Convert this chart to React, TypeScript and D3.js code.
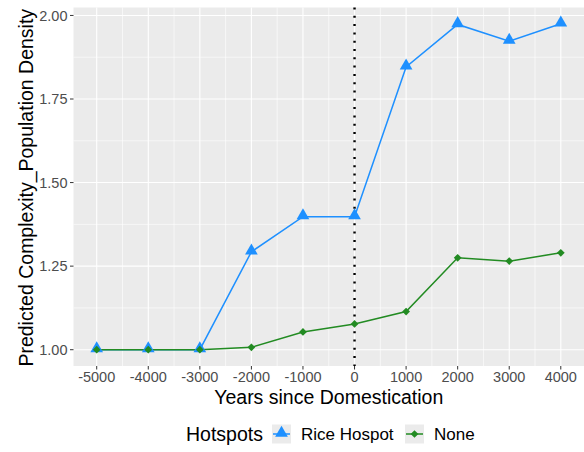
import React from "react";
import * as d3 from "d3";

const years = [-5000, -4000, -3000, -2000, -1000, 0, 1000, 2000, 3000, 4000];
const riceValues = [1.0, 1.0, 1.0, 1.293, 1.398, 1.398, 1.846, 1.973, 1.923, 1.975];
const noneValues = [1.0, 1.0, 1.0, 1.007, 1.053, 1.077, 1.114, 1.275, 1.265, 1.29];
const yTicks = [1.0, 1.25, 1.5, 1.75, 2.0];
const seriesNames = ["Rice Hospot", "None"];

const W = 584;
const H = 452;
const margin = { top: 7.5, right: 0, bottom: 86, left: 73.5 };
const font = "'Liberation Sans', Arial, sans-serif";
const blue = "#1E90FF";
const green = "#228B22";

export default function App() {
  const pw = W - margin.left - margin.right;
  const ph = H - margin.top - margin.bottom;

  const xPad = (4000 - -5000) * 0.05;
  const x = d3.scaleLinear().domain([-5000 - xPad, 4000 + xPad]).range([0, pw]);
  const yMin = d3.min(noneValues)!;
  const yMax = d3.max(riceValues)!;
  const yPad = (yMax - yMin) * 0.05;
  const y = d3.scaleLinear().domain([yMin - yPad, yMax + yPad]).range([ph, 0]);

  const xMinor = years.slice(0, -1).map((v) => v + 500);
  const yMinor = yTicks.slice(0, -1).map((v) => v + 0.125);

  const line = d3
    .line<[number, number]>()
    .x((d) => x(d[0]))
    .y((d) => y(d[1]));

  const riceData = years.map((yr, i) => [yr, riceValues[i]] as [number, number]);
  const noneData = years.map((yr, i) => [yr, noneValues[i]] as [number, number]);

  const tri = d3.symbol().type(d3.symbolTriangle).size(70)();
  const diamond = d3.symbol().type(d3.symbolSquare).size(30)();

  const legendY = 434;

  return (
    <svg width={W} height={H} style={{ position: "absolute", left: 0, top: 0, background: "#fff" }} fontFamily={font}>
      <g transform={`translate(${margin.left},${margin.top})`}>
        <rect width={pw} height={ph} fill="#EBEBEB" />
        {xMinor.map((v) => (
          <line key={`xm${v}`} x1={x(v)} x2={x(v)} y1={0} y2={ph} stroke="#fff" strokeWidth={0.6} />
        ))}
        {yMinor.map((v) => (
          <line key={`ym${v}`} x1={0} x2={pw} y1={y(v)} y2={y(v)} stroke="#fff" strokeWidth={0.6} />
        ))}
        {years.map((v) => (
          <line key={`xg${v}`} x1={x(v)} x2={x(v)} y1={0} y2={ph} stroke="#fff" strokeWidth={1.1} />
        ))}
        {yTicks.map((v) => (
          <line key={`yg${v}`} x1={0} x2={pw} y1={y(v)} y2={y(v)} stroke="#fff" strokeWidth={1.1} />
        ))}

        <path d={line(riceData)!} fill="none" stroke={blue} strokeWidth={1.5} />
        <path d={line(noneData)!} fill="none" stroke={green} strokeWidth={1.5} />
        <line x1={x(0)} x2={x(0)} y1={0} y2={ph} stroke="#000" strokeWidth={2.4} strokeDasharray="2,6.3" />
        {riceData.map((d, i) => (
          <path key={`r${i}`} d={tri!} transform={`translate(${x(d[0])},${y(d[1]) - 1})`} fill={blue} />
        ))}
        {noneData.map((d, i) => (
          <path key={`n${i}`} d={diamond!} transform={`translate(${x(d[0])},${y(d[1])}) rotate(45)`} fill={green} />
        ))}

        {/* axes */}
        {yTicks.map((v) => (
          <g key={`yt${v}`} transform={`translate(0,${y(v)})`}>
            <line x1={-3.5} x2={0} stroke="#333" strokeWidth={1} />
            <text x={-6} dy="0.36em" textAnchor="end" fontSize={14.5} fill="#4D4D4D">
              {d3.format(".2f")(v)}
            </text>
          </g>
        ))}
        {years.map((v) => (
          <g key={`xt${v}`} transform={`translate(${x(v)},${ph})`}>
            <line y1={0} y2={3.5} stroke="#333" strokeWidth={1} />
            <text y={16} textAnchor="middle" fontSize={14.5} fill="#4D4D4D">
              {v}
            </text>
          </g>
        ))}
        <text x={pw / 2} y={ph + 37.5} textAnchor="middle" fontSize={19.5} fill="#000">
          Years since Domestication
        </text>
        <text
          transform={`translate(${-41},${ph / 2 + 1}) rotate(-90)`}
          textAnchor="middle"
          fontSize={19.5}
          fill="#000"
        >
          Predicted Complexity_Population Density
        </text>
      </g>

      {/* legend */}
      <g transform={`translate(0,${legendY})`}>
        <text x={186} dy="0.36em" fontSize={19.5} fill="#000">
          Hotspots
        </text>
        <rect x={272} y={-9.5} width={19} height={19} fill="#EBEBEB" />
        <line x1={273} x2={290} stroke={blue} strokeWidth={1.5} />
        <path d={tri!} transform={`translate(281.5,-1)`} fill={blue} />
        <text x={301} dy="0.36em" fontSize={17} fill="#000">
          {seriesNames[0]}
        </text>
        <rect x={405} y={-9.5} width={19} height={19} fill="#EBEBEB" />
        <line x1={406} x2={423} stroke={green} strokeWidth={1.5} />
        <path d={diamond!} transform={`translate(414.5,0) rotate(45)`} fill={green} />
        <text x={434} dy="0.36em" fontSize={17} fill="#000">
          {seriesNames[1]}
        </text>
      </g>
    </svg>
  );
}
